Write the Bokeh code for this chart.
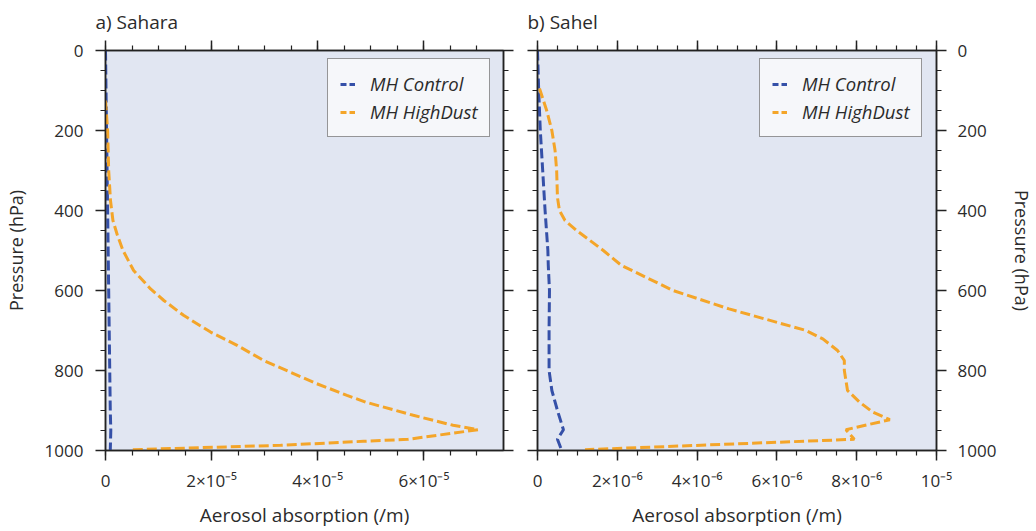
from bokeh.plotting import figure
from bokeh.layouts import row
from bokeh.models import LinearAxis, FixedTicker, Range1d, Legend, LegendItem
from bokeh.embed import file_html
from bokeh.resources import INLINE

# ---------------- data ----------------
# Sahara (panel a)
sahara_ctrl_p = [0, 100, 200, 300, 400, 500, 600, 700, 800, 900, 950, 975, 1000]
sahara_ctrl_x = [0.0, 0.1e-6, 0.2e-6, 0.3e-6, 0.4e-6, 0.5e-6, 0.6e-6, 0.7e-6, 0.8e-6, 0.9e-6, 1.0e-6, 0.95e-6, 0.9e-6]

sahara_dust_p = [125, 200, 300, 375, 425, 460, 500, 550, 596, 625, 662, 704, 737, 775, 804, 833,
                 862, 879, 912, 937, 948, 972, 977, 987, 998]
sahara_dust_x = [0.0, 0.4e-6, 0.6e-6, 0.94e-6, 1.4e-6, 2.2e-6, 3.3e-6, 5.3e-6, 8.5e-6, 11.0e-6,
                 14.7e-6, 19.8e-6, 24.8e-6, 29.8e-6, 34.8e-6, 39.8e-6, 45.5e-6, 49.0e-6, 58.0e-6,
                 65.5e-6, 70.2e-6, 57.0e-6, 48.6e-6, 33.0e-6, 5.0e-6]

# Sahel (panel b)
sahel_ctrl_p = [0, 100, 200, 300, 400, 500, 537, 600, 700, 800, 850, 900, 948, 972, 998]
sahel_ctrl_x = [0.0, 0.03e-6, 0.07e-6, 0.13e-6, 0.19e-6, 0.26e-6, 0.27e-6, 0.30e-6, 0.29e-6,
                0.29e-6, 0.36e-6, 0.50e-6, 0.65e-6, 0.50e-6, 0.60e-6]

sahel_dust_p = [95, 150, 200, 250, 300, 367, 400, 425, 450, 500, 537, 600, 646, 700, 721, 750,
                775, 800, 850, 879, 904, 923, 948, 972, 998]
sahel_dust_x = [0.05e-6, 0.23e-6, 0.36e-6, 0.44e-6, 0.48e-6, 0.50e-6, 0.55e-6, 0.69e-6, 0.98e-6,
                1.65e-6, 2.1e-6, 3.4e-6, 4.8e-6, 6.73e-6, 7.15e-6, 7.52e-6, 7.69e-6, 7.69e-6,
                7.77e-6, 8.07e-6, 8.4e-6, 8.83e-6, 7.73e-6, 7.94e-6, 1.19e-6]

series_names = ["MH Control", "MH HighDust"]

p_ticks = [0, 200, 400, 600, 800, 1000]
p_minor = list(range(0, 1001, 50))

a_ticks = [0, 2e-5, 4e-5, 6e-5]
a_minor = [i * 0.5e-5 for i in range(0, 16)]
a_labels = ["0", "2×10⁻⁵", "4×10⁻⁵", "6×10⁻⁵"]

b_ticks = [0, 2e-6, 4e-6, 6e-6, 8e-6, 1e-5]
b_minor = [i * 0.5e-6 for i in range(0, 21)]
b_labels = ["0", "2×10⁻⁶", "4×10⁻⁶", "6×10⁻⁶", "8×10⁻⁶", "10⁻⁵"]

# ---------------- style ----------------
FONT = "Open Sans"
TXT = "#2b2b2b"
BG = "#E1E6F2"
BLUE = "#3550A8"
ORANGE = "#F4A529"
DASH = "10 4"
LEG_DASH = "6 3"
NAN = float("nan")


def style_axis(ax, ticker, labels=None, show_labels=True):
    ax.ticker = ticker
    ax.axis_line_color = "#222222"
    ax.axis_line_width = 1.5
    ax.major_tick_line_color = "#222222"
    ax.major_tick_line_width = 1.5
    ax.minor_tick_line_color = "#222222"
    ax.minor_tick_line_width = 1.2
    ax.major_tick_out = 10
    ax.major_tick_in = 0
    ax.minor_tick_out = 5
    ax.minor_tick_in = 0
    ax.major_label_text_font = FONT
    ax.major_label_text_color = TXT
    ax.major_label_text_font_size = "17px"
    ax.axis_label_text_font = FONT
    ax.axis_label_text_font_style = "normal"
    ax.axis_label_text_color = TXT
    ax.axis_label_text_font_size = "19px"
    if labels is not None:
        ax.major_label_overrides = dict(zip(ticker.ticks, labels))
    if not show_labels:
        ax.major_label_text_color = None
        ax.major_label_standoff = 0


def make_panel(title, xmax, xt, xminor, xlabels, ctrl, dust, side, legend_loc,
               mb_left, mb_right, fw):
    p = figure(frame_width=fw, frame_height=400,
               x_range=Range1d(0, xmax), y_range=Range1d(1000, 0),
               output_backend="svg", toolbar_location=None,
               x_axis_location=None, y_axis_location=None,
               min_border_left=mb_left, min_border_right=mb_right,
               min_border_top=42, min_border_bottom=74)
    p.background_fill_color = BG
    p.border_fill_color = "white"
    p.outline_line_color = "#222222"
    p.outline_line_width = 1.5
    p.xgrid.visible = False
    p.ygrid.visible = False

    xtick = FixedTicker(ticks=xt, minor_ticks=xminor)
    ytick = FixedTicker(ticks=p_ticks, minor_ticks=p_minor)

    below = LinearAxis(axis_label="Aerosol absorption (/m)")
    style_axis(below, xtick, xlabels)
    below.major_label_standoff = 8
    below.axis_label_standoff = 7
    p.add_layout(below, "below")

    above = LinearAxis()
    style_axis(above, FixedTicker(ticks=xt, minor_ticks=xminor), show_labels=False)
    p.add_layout(above, "above")

    main_y = LinearAxis(axis_label="Pressure (hPa)")
    style_axis(main_y, ytick)
    main_y.axis_label_text_font_size = "18px"
    other_y = LinearAxis()
    style_axis(other_y, FixedTicker(ticks=p_ticks, minor_ticks=p_minor), show_labels=False)
    if side == "left":
        main_y.major_label_standoff = 12
        main_y.axis_label_standoff = 14
        p.add_layout(main_y, "left")
        p.add_layout(other_y, "right")
    else:
        main_y.major_label_standoff = 11
        main_y.axis_label_standoff = 11
        p.add_layout(main_y, "right")
        p.add_layout(other_y, "left")

    p.line(ctrl[0], ctrl[1], line_color=BLUE, line_width=3, line_dash=DASH)
    p.line(dust[0], dust[1], line_color=ORANGE, line_width=3, line_dash=DASH)

    # legend swatches (invisible NaN renderers, so the sample shows two even dashes)
    s1 = p.line([NAN], [NAN], line_color=BLUE, line_width=3, line_dash=LEG_DASH)
    s2 = p.line([NAN], [NAN], line_color=ORANGE, line_width=3, line_dash=LEG_DASH)

    p.title.text = title
    p.title.text_font = FONT
    p.title.text_font_size = "19px"
    p.title.text_font_style = "normal"
    p.title.text_color = TXT
    p.title.offset = -10
    p.title.standoff = 12

    lg = Legend(items=[LegendItem(label=series_names[0], renderers=[s1]),
                       LegendItem(label=series_names[1], renderers=[s2])])
    lg.location = legend_loc
    lg.background_fill_color = "#F6F7FA"
    lg.background_fill_alpha = 1.0
    lg.border_line_color = "#333333"
    lg.border_line_width = 1.5
    lg.label_text_font = FONT
    lg.label_text_font_style = "italic"
    lg.label_text_font_size = "18.5px"
    lg.label_text_color = TXT
    lg.glyph_width = 15
    lg.glyph_height = 20
    lg.label_height = 20
    lg.label_standoff = 15
    lg.spacing = 3
    lg.padding = 12
    lg.margin = 0
    p.add_layout(lg)
    return p


p1 = make_panel("a) Sahara", 7.5e-5, a_ticks, a_minor, a_labels,
                (sahara_ctrl_x, sahara_ctrl_p), (sahara_dust_x, sahara_dust_p),
                "left", (222, 313), 97, 13, 398)
p2 = make_panel("b) Sahel", 1e-5, b_ticks, b_minor, b_labels,
                (sahel_ctrl_x, sahel_ctrl_p), (sahel_dust_x, sahel_dust_p),
                "right", (222, 313), 21, 92, 399)

layout = row(p1, p2)
open("out.html", "w").write(file_html(layout, INLINE))
